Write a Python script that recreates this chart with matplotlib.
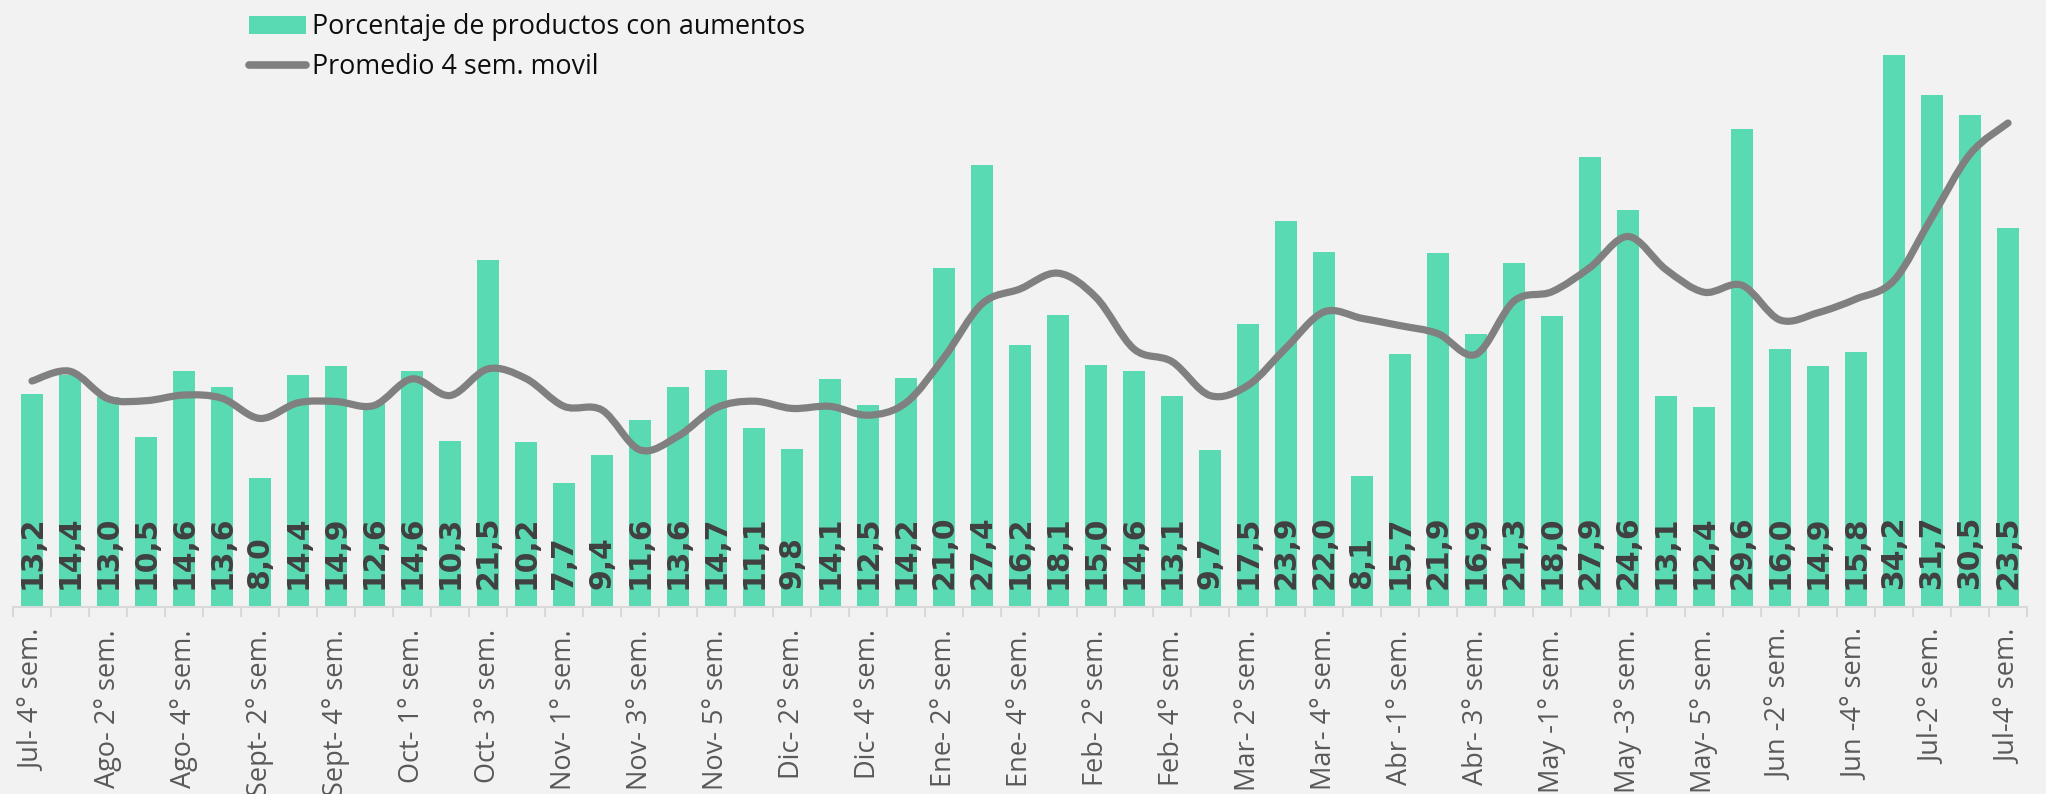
import numpy as np
import matplotlib
matplotlib.use("Agg")
import matplotlib.pyplot as plt
from matplotlib.path import Path
from matplotlib.patches import PathPatch, Patch
from matplotlib.lines import Line2D

# Porcentaje de productos con aumentos (semanal)
porcentaje = [13.2, 14.4, 13.0, 10.5, 14.6, 13.6, 8.0, 14.4, 14.9, 12.6,
              14.6, 10.3, 21.5, 10.2, 7.7, 9.4, 11.6, 13.6, 14.7, 11.1,
              9.8, 14.1, 12.5, 14.2, 21.0, 27.4, 16.2, 18.1, 15.0, 14.6,
              13.1, 9.7, 17.5, 23.9, 22.0, 8.1, 15.7, 21.9, 16.9, 21.3,
              18.0, 27.9, 24.6, 13.1, 12.4, 29.6, 16.0, 14.9, 15.8, 34.2,
              31.7, 30.5, 23.5]

# Promedio 4 semanas movil
promedio = [14.0, 14.6, 12.9, 12.78, 13.13, 12.93, 11.68, 12.65, 12.73, 12.48,
            14.13, 13.1, 14.75, 14.15, 12.43, 12.2, 9.73, 10.58, 12.33, 12.75,
            12.3, 12.43, 11.88, 12.65, 15.45, 18.78, 19.7, 20.68, 19.18, 15.98,
            15.2, 13.1, 13.73, 16.05, 18.28, 17.88, 17.43, 16.93, 15.65, 18.95,
            19.53, 21.03, 22.95, 20.9, 19.5, 19.93, 17.78, 18.23, 19.08, 20.23,
            24.15, 28.05, 29.98]

etiquetas = ["Jul- 4° sem.", "Ago- 2° sem.", "Ago- 4° sem.", "Sept- 2° sem.",
             "Sept- 4° sem.", "Oct- 1° sem.", "Oct- 3° sem.", "Nov- 1° sem.",
             "Nov- 3° sem.", "Nov- 5° sem.", "Dic- 2° sem.", "Dic- 4° sem.",
             "Ene- 2° sem.", "Ene- 4° sem.", "Feb- 2° sem.", "Feb- 4° sem.",
             "Mar- 2° sem.", "Mar- 4° sem.", "Abr -1° sem.", "Abr- 3° sem.",
             "May -1° sem.", "May -3° sem.", "May- 5° sem.", "Jun -2° sem.",
             "Jun -4° sem.", "Jul-2° sem.", "Jul-4° sem."]

BG = "#f2f2f2"
VERDE = "#5adab3"
GRIS = "#808080"

W, H = 2046, 794
fig = plt.figure(figsize=(W / 100, H / 100), dpi=100, facecolor=BG)
ax = fig.add_axes([13 / W, (H - 607) / H, (2027 - 13) / W, 607 / H])
ax.set_facecolor(BG)

n = len(porcentaje)
x = np.arange(n)
ax.bar(x, porcentaje, width=0.56, color=VERDE, zorder=2)

# linea suavizada (curva Bezier tipo Excel)
pts = np.column_stack([x, promedio]).astype(float)
verts = [pts[0]]
codes = [Path.MOVETO]
for i in range(n - 1):
    p0 = pts[i - 1] if i > 0 else pts[i]
    p1 = pts[i]
    p2 = pts[i + 1]
    p3 = pts[i + 2] if i + 2 < n else pts[i + 1]
    verts += [p1 + (p2 - p0) / 6, p2 - (p3 - p1) / 6, p2]
    codes += [Path.CURVE4] * 3
ax.add_patch(PathPatch(Path(verts, codes), fill=False, edgecolor=GRIS,
                       lw=5.2, capstyle="round", joinstyle="round", zorder=3))

for xi, v in zip(x, porcentaje):
    ax.annotate(f"{v:.1f}".replace(".", ","), xy=(xi, 0), xytext=(0, 13),
                textcoords="offset points", rotation=90, ha="center", va="bottom",
                fontsize=21.5, fontweight="bold", color="#404040",
                family="DejaVu Sans", zorder=4)

ax.set_xlim(-0.5, n - 0.5)
ax.set_ylim(0, 37.6)
for s in ["top", "right", "left"]:
    ax.spines[s].set_visible(False)
ax.spines["bottom"].set_color("#d9d9d9")
ax.spines["bottom"].set_linewidth(1.5)
ax.set_yticks([])

ax.set_xticks(np.arange(0, n, 2))
ax.set_xticklabels(etiquetas, rotation=90, fontsize=19.5, color="#595959",
                   family="Open Sans", va="top", ha="center")
ax.set_xticks(np.arange(-0.5, n, 1), minor=True)
ax.tick_params(axis="x", which="major", length=0, pad=16)
ax.tick_params(axis="x", which="minor", length=7, width=1.5, color="#d9d9d9")

handles = [Patch(facecolor=VERDE, edgecolor="none"),
           Line2D([0], [0], color=GRIS, lw=5.5, solid_capstyle="round")]
leg = ax.legend(handles, ["Porcentaje de productos con aumentos",
                          "Promedio 4 sem. movil"],
                loc="upper left", bbox_to_anchor=(249 / W, 1 - 13 / H),
                bbox_transform=fig.transFigure, frameon=False,
                prop={"family": "Open Sans", "size": 19.4},
                handlelength=2.1, handleheight=0.65, handletextpad=0.22,
                labelspacing=0.46, borderpad=0, borderaxespad=0)
for t in leg.get_texts():
    t.set_color("#0d0d0d")

fig.savefig("out.png", dpi=100, facecolor=BG)
